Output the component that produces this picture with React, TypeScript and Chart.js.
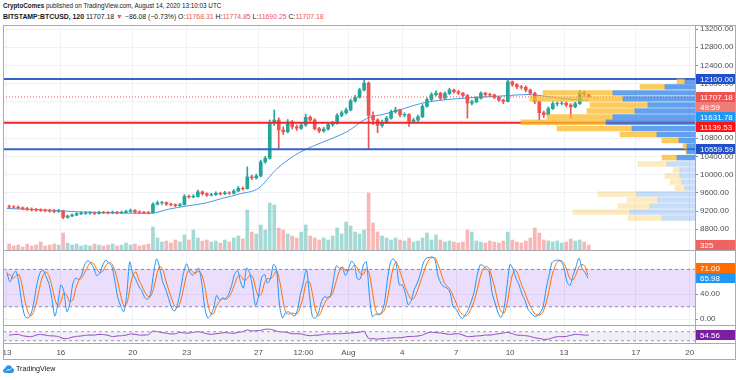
import React, { useEffect, useRef } from 'react';
import { Chart, registerables } from 'chart.js';

Chart.register(...registerables);

// ---------------- data ----------------
const X_MIN = -0.22; // days since Jul 13 00:00
const X_MAX = 38.29;
const timeTickDays = [0, 3, 7, 10, 14, 16.5, 19, 22, 25, 28, 31, 35, 38];
const timeTickLabels = ['13', '16', '20', '23', '27', '12:00', 'Aug', '4', '7', '10', '13', '17', '20'];
const priceTicks = [8800, 9200, 9600, 10000, 10400, 10800, 11200, 11600, 12000, 12400, 12800, 13200];
const stochTicks = [0, 40, 80];

// 6-hour candles
const firstOpen = 9300;
const closes = [
  9290, 9285, 9270, 9250, 9240, 9225, 9220, 9215, 9210, 9200,
  9190, 9200, 9060, 9090, 9110, 9140, 9150, 9155, 9160, 9150,
  9170, 9165, 9160, 9170, 9160, 9170, 9190, 9210, 9180, 9170,
  9165, 9160, 9350, 9380, 9385, 9350, 9340, 9320, 9340, 9520,
  9510, 9520, 9620, 9580, 9550, 9560, 9590, 9580, 9600, 9590,
  9640, 9700, 9690, 9950, 9930, 9970, 10280, 10360, 11150, 11200,
  10980, 10940, 11160, 11050, 11020, 11090, 11260, 11200, 11010, 10960,
  11000, 11100, 11130, 11300, 11360, 11420, 11620, 11700, 11860, 12010,
  11300, 11200, 11080, 11150, 11240, 11380, 11420, 11310, 11320, 11170,
  11200, 11270, 11500, 11650, 11760, 11790, 11680, 11780, 11860, 11820,
  11790, 11740, 11570, 11600, 11680, 11790, 11760, 11750, 11700, 11640,
  11610, 12040, 11980, 11930, 11920, 11860, 11790, 11600, 11360, 11320,
  11450, 11560, 11565, 11570, 11530, 11490, 11560, 11810, 11760, 11707.18,
];
const highs = [
  9330, 9320, 9310, 9290, 9280, 9270, 9260, 9250, 9245, 9240,
  9230, 9235, 9215, 9110, 9140, 9165, 9180, 9185, 9190, 9185,
  9200, 9195, 9190, 9200, 9195, 9200, 9220, 9245, 9230, 9205,
  9195, 9190, 9380, 9420, 9410, 9400, 9375, 9360, 9370, 9560,
  9550, 9560, 9660, 9640, 9600, 9590, 9620, 9615, 9630, 9625,
  9670, 9740, 9730, 10170, 9990, 10010, 10320, 10400, 11200, 11420,
  11250, 11050, 11210, 11190, 11090, 11130, 11330, 11290, 11230, 11040,
  11040, 11140, 11170, 11340, 11400, 11460, 11660, 11740, 11900, 12080,
  12040, 11380, 11230, 11200, 11280, 11420, 11480, 11440, 11360, 11340,
  11240, 11310, 11540, 11690, 11800, 11840, 11810, 11820, 11900, 11880,
  11850, 11810, 11760, 11640, 11710, 11820, 11810, 11790, 11770, 11720,
  11660, 12090, 12060, 12000, 11960, 11950, 11880, 11810, 11620, 11400,
  11490, 11600, 11600, 11610, 11600, 11560, 11590, 11850, 11840, 11775,
];
const lows = [
  9270, 9260, 9250, 9230, 9215, 9200, 9195, 9190, 9180, 9175,
  9160, 9170, 9030, 9040, 9075, 9095, 9120, 9125, 9130, 9120,
  9130, 9140, 9135, 9140, 9135, 9140, 9150, 9170, 9155, 9145,
  9140, 9135, 9150, 9330, 9345, 9320, 9310, 9290, 9300, 9330,
  9480, 9490, 9505, 9550, 9520, 9530, 9540, 9550, 9560, 9565,
  9575, 9620, 9660, 9680, 9890, 9900, 9950, 10250, 10340, 11080,
  10580, 10880, 10920, 11000, 10970, 10990, 11060, 11150, 10980, 10920,
  10930, 10980, 11060, 11110, 11270, 11330, 11400, 11590, 11680, 11840,
  10570, 11100, 10920, 11040, 11120, 11220, 11350, 11270, 11270, 11060,
  11130, 11170, 11250, 11480, 11620, 11730, 11640, 11660, 11760, 11790,
  11760, 11700, 11240, 11530, 11580, 11660, 11720, 11720, 11670, 11610,
  11560, 11600, 11940, 11890, 11880, 11820, 11750, 11560, 11200, 11250,
  11300, 11430, 11510, 11530, 11490, 11240, 11470, 11540, 11720, 11690,
];
const volumes = [
  390, 260, 325, 195, 390, 260, 325, 520, 260, 325, 390, 325,
  1105,
  455, 325, 390, 260, 325, 260, 390, 325, 260, 325, 390, 260, 325, 455, 325, 390, 260, 325, 390,
  1495, 780, 520, 585, 455, 650, 520, 975, 650, 1300,
  780, 585, 650, 520, 585, 455, 650, 520, 780, 910, 715,
  2600, 1170, 1040, 1625, 1300, 3055, 2925,
  1430, 1300, 1040, 910, 780, 1170, 1625, 910, 780, 650,
  780, 650, 910, 1430, 1040, 1820, 1560, 1170, 1040, 1300,
  3705, 1755, 1170, 910, 780, 650, 780, 650, 585, 780,
  520, 585, 780, 1105, 650, 975, 650, 520, 585, 520,
  455, 520, 1300, 1170, 585, 520, 455, 585, 520, 455,
  585, 1170, 650, 520, 455, 585, 780, 1430, 1105, 650,
  585, 520, 585, 455, 520, 715, 585, 650, 520, 325,
];

// moving average (daily readings)
const maDays = [0, 1, 2, 3, 4, 5, 6, 7, 8, 9, 10, 11, 12, 13, 14, 15, 16, 17, 18, 19, 20, 21, 22, 23, 24, 25, 26, 27, 28, 29, 30, 31, 32, 32.375];
const maValues = [
  9255, 9240, 9225, 9205, 9180, 9165, 9158, 9152, 9150, 9240,
  9310, 9370, 9480, 9580, 9700, 10120, 10420, 10620, 10780, 10960,
  11230, 11330, 11440, 11560, 11630, 11665, 11695, 11715, 11740, 11760,
  11720, 11670, 11640, 11631.78,
];

// key levels
const levelHigh = 12100;
const levelMid = 11139.53;
const levelLow = 10559.59;
const lastPrice = 11707.18;
const lastVolume = 325;
const countdown = '49:59';

// visible range volume profile (rows)
const profPrice = [12049, 11928, 11796, 11664, 11532, 11400, 11268, 11149, 11015, 10883, 10751, 10626, 10509, 10373, 10234, 10102, 9970, 9838, 9706, 9574, 9442, 9310, 9178, 9046];
const profUp = [10, 30, 82, 72, 47, 60, 82, 89, 63, 38, 16, 8, 8, 18, 28, 15, 15, 13, 10, 58, 37, 45, 65, 33];
const profDown = [8, 25, 70, 93, 58, 48, 66, 85, 75, 37, 17, 4, 1, 15, 29, 7, 15, 12, 10, 39, 31, 32, 57, 34];
const valueAreaLow = 10300;

// stochastic (4-hour readings)
const stochK = [
  75, 60, 71, 77, 58, 25, 5, 2, 8, 28,
  56, 74, 79, 69, 57, 33, 5, 25, 55, 45,
  12, 25, 57, 66, 64, 72, 88, 94, 90, 82,
  70, 74, 87, 95, 90, 85, 62, 35, 21, 12,
  40, 92, 73, 64, 53, 46, 35, 32, 42, 75,
  97, 82, 60, 48, 33, 18, 13, 25, 48, 75,
  89, 76, 71, 75, 82, 60, 20, 2, 6, 18,
  38, 31, 33, 33, 40, 54, 72, 78, 60, 50,
  82, 75, 52, 22, 37, 66, 72, 58, 65, 88,
  80, 23, 2, 10, 12, 8, 5, 15, 40, 60,
  80, 39, 4, 2, 10, 28, 36, 35, 38, 62,
  86, 82, 83, 70, 80, 93, 88, 65, 65, 87,
  92, 39, 4, 8, 8, 10, 25, 62, 90, 97,
  88, 55, 55, 42, 23, 30, 48, 58, 72, 90,
  98, 99, 100, 94, 68, 57, 52, 50, 42, 20,
  16, 7, 1, 7, 15, 28, 44, 70, 87, 86,
  81, 76, 42, 26, 10, 3, 18, 55, 88, 80,
  65, 55, 40, 30, 16, 10, 5, 5, 10, 20,
  48, 70, 91, 94, 95, 93, 82, 60, 54, 70,
  84, 98, 82, 75, 65.98,
];
const stochD = [
  70, 72, 65, 70, 72, 55, 30, 12, 5, 13,
  30, 53, 70, 76, 70, 53, 32, 22, 28, 42,
  38, 28, 31, 50, 62, 67, 75, 85, 91, 89,
  80, 75, 77, 86, 91, 89, 79, 60, 38, 22,
  25, 48, 70, 76, 64, 54, 44, 37, 37, 50,
  71, 85, 80, 63, 47, 33, 21, 19, 29, 50,
  71, 80, 76, 74, 77, 72, 54, 27, 9, 9,
  21, 29, 34, 32, 35, 43, 56, 68, 70, 63,
  64, 70, 69, 50, 37, 41, 58, 65, 65, 70,
  78, 63, 35, 12, 8, 10, 9, 9, 20, 38,
  60, 60, 41, 15, 5, 13, 25, 33, 36, 45,
  62, 77, 84, 78, 78, 81, 87, 82, 73, 72,
  81, 73, 45, 17, 7, 9, 14, 32, 59, 83,
  92, 80, 66, 51, 40, 32, 34, 45, 59, 73,
  87, 96, 99, 98, 87, 73, 59, 53, 48, 37,
  26, 14, 8, 5, 8, 17, 29, 47, 67, 81,
  85, 81, 66, 48, 26, 13, 10, 25, 54, 74,
  78, 67, 53, 42, 29, 19, 10, 7, 7, 12,
  26, 46, 70, 85, 93, 94, 90, 78, 65, 63,
  72, 84, 88, 85, 71,
];

// RSI (6-hour readings)
const rsiValues = [
  55, 57, 58, 52, 49, 48, 55, 58, 55, 52,
  51, 48, 40, 39, 46, 49, 51, 54, 55, 55,
  58, 57, 54, 48, 51, 52, 55, 60, 58, 55,
  55, 57, 73, 70, 66, 63, 60, 61, 67, 64,
  64, 67, 70, 66, 61, 58, 61, 63, 66, 64,
  63, 67, 70, 78, 73, 75, 76, 81, 81, 76,
  70, 69, 66, 61, 61, 60, 55, 52, 54, 55,
  58, 60, 60, 61, 61, 63, 64, 66, 67, 72,
  40, 39, 37, 39, 40, 42, 43, 43, 46, 49,
  49, 51, 55, 64, 67, 66, 64, 61, 58, 60,
  61, 55, 48, 49, 51, 52, 55, 55, 58, 61,
  64, 67, 61, 55, 54, 52, 49, 43, 40, 36,
  37, 43, 48, 48, 49, 54, 58, 57, 55, 54.56,
];

// ---------------- styling ----------------
const FONT = "'Liberation Sans', Arial, sans-serif";
const GRID = '#eff1f6';
const TEXT = '#4a4d56';
const FRAME = '#a7aab3';
const UP = '#26a69a';
const DOWN = '#ef5350';

const PRICE_MIN = 8343;
const PRICE_MAX = 13288;
const VOL_MAX = 14625;
const PROF_MAX = 692;

type Box = { axis: string; value: number; text: string; bg: string };

function boxPlugin(id: string, boxes: Box[], dir: 'down' | 'up') {
  return {
    id,
    afterDraw(chart: any) {
      const { ctx, chartArea } = chart;
      const H = 10;
      const items = boxes.map((b, k) => ({ ...b, k, y: chart.scales[b.axis].getPixelForValue(b.value) }));
      items.sort((a, b) => a.y - b.y || a.k - b.k);
      if (dir === 'down') {
        for (let i = 1; i < items.length; i++) if (items[i].y < items[i - 1].y + H) items[i].y = items[i - 1].y + H;
      } else {
        for (let i = items.length - 2; i >= 0; i--) if (items[i].y > items[i + 1].y - H) items[i].y = items[i + 1].y - H;
      }
      const x0 = chartArea.right + 1;
      ctx.save();
      ctx.font = `8px ${FONT}`;
      ctx.textBaseline = 'middle';
      for (const it of items) {
        ctx.fillStyle = it.bg;
        ctx.fillRect(x0, Math.round(it.y - H / 2), chart.width - x0 - 1, H);
        ctx.fillStyle = '#ffffff';
        ctx.fillText(it.text, x0 + 4, Math.round(it.y - H / 2) + H / 2 + 0.5);
      }
      ctx.restore();
    },
  };
}

function xAxis(showLabels: boolean, axisHeight: number) {
  return {
    type: 'linear',
    min: X_MIN,
    max: X_MAX,
    offset: false,
    position: 'bottom',
    afterBuildTicks: (s: any) => {
      s.ticks = timeTickDays.map((v) => ({ value: v }));
    },
    ticks: {
      display: showLabels,
      autoSkip: false,
      maxRotation: 0,
      padding: 4,
      color: TEXT,
      font: { size: 8 },
      callback: (_v: any, i: number) => timeTickLabels[i],
    },
    grid: { color: GRID, drawTicks: false, offset: false },
    border: { display: false },
    afterFit: (s: any) => {
      s.height = axisHeight;
      s.paddingLeft = 0;
      s.paddingRight = 0;
    },
  };
}

function rightAxis(min: number, max: number, ticks: number[], extra: any = {}) {
  return {
    type: 'linear',
    position: 'right',
    min,
    max,
    offset: false,
    afterBuildTicks: (s: any) => {
      s.ticks = ticks.map((v) => ({ value: v }));
    },
    ticks: {
      display: ticks.length > 0,
      color: TEXT,
      font: { size: 8 },
      padding: 2,
      callback: (v: any) => Number(v).toFixed(2),
    },
    grid: { color: GRID, tickColor: '#8a8d96', tickLength: 3, offset: false },
    border: { display: false },
    afterFit: (s: any) => {
      s.width = 41;
      s.paddingTop = 0;
      s.paddingBottom = 0;
    },
    ...extra,
  };
}

const hline = (y: number) => [
  { x: X_MIN, y },
  { x: X_MAX, y },
];

function mainConfig(): any {
  const times = closes.map((_, i) => (i + 0.5) / 4);
  const opens = closes.map((_, i) => (i === 0 ? firstOpen : closes[i - 1]));
  const isUp = closes.map((c, i) => c >= opens[i]);
  const inVA = profPrice.map((p) => p >= valueAreaLow);
  return {
    type: 'bar',
    data: {
      datasets: [
        {
          type: 'bar',
          label: 'Volume',
          yAxisID: 'yVol',
          xAxisID: 'x',
          data: times.map((t, i) => ({ x: t, y: volumes[i] })),
          backgroundColor: isUp.map((u) => (u ? 'rgba(38,166,154,0.42)' : 'rgba(239,83,80,0.42)')),
          barThickness: 3,
          grouped: false,
          borderWidth: 0,
          order: 20,
        },
        {
          type: 'line',
          label: 'MA',
          xAxisID: 'x',
          yAxisID: 'y',
          data: maDays.map((d, i) => ({ x: d, y: maValues[i] })),
          borderColor: '#4a96e4',
          borderWidth: 1,
          pointRadius: 0,
          cubicInterpolationMode: 'monotone',
          order: 15,
        },
        {
          type: 'bar',
          label: 'Wicks',
          xAxisID: 'x',
          yAxisID: 'y',
          data: times.map((t, i) => ({ x: t, y: [lows[i], highs[i]] })),
          backgroundColor: isUp.map((u) => (u ? UP : DOWN)),
          barThickness: 1,
          grouped: false,
          borderWidth: 0,
          order: 14,
        },
        {
          type: 'bar',
          label: 'Bodies',
          xAxisID: 'x',
          yAxisID: 'y',
          data: times.map((t, i) => ({ x: t, y: [opens[i], closes[i]] })),
          backgroundColor: isUp.map((u) => (u ? UP : DOWN)),
          barThickness: 3,
          grouped: false,
          borderWidth: 0,
          order: 13,
        },
        {
          type: 'line',
          label: 'Last',
          xAxisID: 'x',
          yAxisID: 'y',
          data: hline(lastPrice),
          borderColor: '#ef5350',
          borderWidth: 1,
          borderDash: [1, 2],
          pointRadius: 0,
          order: 12,
        },
        {
          type: 'line',
          label: 'L1',
          xAxisID: 'x',
          yAxisID: 'y',
          data: hline(levelHigh),
          borderColor: '#3563c9',
          borderWidth: 2,
          pointRadius: 0,
          order: 11,
        },
        {
          type: 'line',
          label: 'L2',
          xAxisID: 'x',
          yAxisID: 'y',
          data: hline(levelMid),
          borderColor: '#f02424',
          borderWidth: 2,
          pointRadius: 0,
          order: 11,
        },
        {
          type: 'line',
          label: 'L3',
          xAxisID: 'x',
          yAxisID: 'y',
          data: hline(levelLow),
          borderColor: '#3563c9',
          borderWidth: 2,
          pointRadius: 0,
          order: 11,
        },
        {
          type: 'bar',
          label: 'ProfUp',
          indexAxis: 'y',
          xAxisID: 'xProf',
          yAxisID: 'y',
          data: profPrice.map((p, k) => ({ y: p, x: [0, profUp[k]] })),
          backgroundColor: inVA.map((v) => (v ? 'rgba(33,120,230,0.7)' : 'rgba(33,120,230,0.25)')),
          barThickness: 4.8,
          grouped: false,
          borderWidth: 0,
          order: 2,
        },
        {
          type: 'bar',
          label: 'ProfDown',
          indexAxis: 'y',
          xAxisID: 'xProf',
          yAxisID: 'y',
          data: profPrice.map((p, k) => ({ y: p, x: [profUp[k], profUp[k] + profDown[k]] })),
          backgroundColor: inVA.map((v) => (v ? 'rgba(250,185,40,0.75)' : 'rgba(250,185,40,0.3)')),
          barThickness: 4.8,
          grouped: false,
          borderWidth: 0,
          order: 2,
        },
      ],
    },
    options: {
      responsive: false,
      animation: false,
      devicePixelRatio: 1,
      events: [],
      layout: { padding: 0 },
      plugins: { legend: { display: false }, tooltip: { enabled: false } },
      scales: {
        x: xAxis(false, 0),
        xProf: { type: 'linear', min: 0, max: PROF_MAX, reverse: true, display: false, offset: false },
        y: rightAxis(PRICE_MIN, PRICE_MAX, priceTicks),
        yVol: { type: 'linear', min: 0, max: VOL_MAX, display: false, offset: false },
      },
    },
    plugins: [
      boxPlugin(
        'mainBoxes',
        [
          { axis: 'y', value: levelHigh, text: levelHigh.toFixed(2), bg: '#1f4fc9' },
          { axis: 'y', value: lastPrice, text: lastPrice.toFixed(2), bg: '#ef5350' },
          { axis: 'y', value: lastPrice, text: countdown, bg: '#f07c78' },
          { axis: 'y', value: maValues[maValues.length - 1], text: maValues[maValues.length - 1].toFixed(2), bg: '#2196f3' },
          { axis: 'y', value: levelMid, text: levelMid.toFixed(2), bg: '#ff1414' },
          { axis: 'y', value: levelLow, text: levelLow.toFixed(2), bg: '#1f4fc9' },
          { axis: 'yVol', value: lastVolume, text: String(lastVolume), bg: '#ef6360' },
        ],
        'down'
      ),
    ],
  };
}

function stochConfig(): any {
  const t = stochK.map((_, j) => j / 6);
  return {
    type: 'line',
    data: {
      datasets: [
        {
          data: hline(80),
          borderColor: '#8a8d96',
          borderWidth: 1,
          borderDash: [3, 3],
          pointRadius: 0,
          fill: '+1',
          backgroundColor: 'rgba(155,85,240,0.2)',
          order: 5,
        },
        {
          data: hline(20),
          borderColor: '#8a8d96',
          borderWidth: 1,
          borderDash: [3, 3],
          pointRadius: 0,
          fill: false,
          order: 5,
        },
        {
          data: t.map((x, j) => ({ x, y: stochD[j] })),
          borderColor: '#ff6d00',
          borderWidth: 1,
          pointRadius: 0,
          tension: 0.3,
          order: 2,
        },
        {
          data: t.map((x, j) => ({ x, y: stochK[j] })),
          borderColor: '#2196f3',
          borderWidth: 1,
          pointRadius: 0,
          tension: 0.3,
          order: 1,
        },
      ],
    },
    options: {
      responsive: false,
      animation: false,
      devicePixelRatio: 1,
      events: [],
      layout: { padding: 0 },
      plugins: { legend: { display: false }, tooltip: { enabled: false } },
      scales: {
        x: xAxis(false, 0),
        y: rightAxis(-10.9, 111.1, stochTicks),
      },
    },
    plugins: [
      boxPlugin(
        'stochBoxes',
        [
          { axis: 'y', value: stochD[stochD.length - 1], text: stochD[stochD.length - 1].toFixed(2), bg: '#ff6d00' },
          { axis: 'y', value: stochK[stochK.length - 1], text: stochK[stochK.length - 1].toFixed(2), bg: '#2196f3' },
        ],
        'up'
      ),
    ],
  };
}

function rsiConfig(): any {
  const t = rsiValues.map((_, i) => (i + 0.5) / 4);
  const last = rsiValues[rsiValues.length - 1];
  return {
    type: 'line',
    data: {
      datasets: [
        {
          data: hline(70),
          borderColor: '#9a9ca5',
          borderWidth: 1,
          borderDash: [3, 3],
          pointRadius: 0,
          fill: '+1',
          backgroundColor: 'rgba(126,87,194,0.1)',
        },
        {
          data: hline(30),
          borderColor: '#9a9ca5',
          borderWidth: 1,
          borderDash: [3, 3],
          pointRadius: 0,
          fill: false,
        },
        {
          data: t.map((x, i) => ({ x, y: rsiValues[i] })),
          borderColor: '#8e3fbd',
          borderWidth: 1,
          pointRadius: 0,
          tension: 0.2,
        },
      ],
    },
    options: {
      responsive: false,
      animation: false,
      devicePixelRatio: 1,
      events: [],
      layout: { padding: 0 },
      plugins: { legend: { display: false }, tooltip: { enabled: false } },
      scales: {
        x: xAxis(true, 16.5),
        y: rightAxis(17.6, 95.3, [], { grid: { display: false } }),
      },
    },
    plugins: [boxPlugin('rsiBoxes', [{ axis: 'y', value: last, text: last.toFixed(2), bg: '#7b1fa2' }], 'down')],
  };
}

const line = (left: number, top: number, width: number, height: number): React.CSSProperties => ({
  position: 'absolute',
  left,
  top,
  width,
  height,
  background: FRAME,
  pointerEvents: 'none',
});

export default function App() {
  const mainRef = useRef<HTMLCanvasElement>(null);
  const stochRef = useRef<HTMLCanvasElement>(null);
  const rsiRef = useRef<HTMLCanvasElement>(null);

  useEffect(() => {
    Chart.defaults.font.family = FONT;
    const charts: Chart[] = [];
    if (mainRef.current) charts.push(new Chart(mainRef.current, mainConfig()));
    if (stochRef.current) charts.push(new Chart(stochRef.current, stochConfig()));
    if (rsiRef.current) charts.push(new Chart(rsiRef.current, rsiConfig()));
    return () => charts.forEach((c) => c.destroy());
  }, []);

  const red = { color: '#ef5350' };
  return (
    <div
      style={{
        position: 'absolute',
        left: 0,
        top: 0,
        width: 736,
        height: 380,
        background: '#ffffff',
        overflow: 'hidden',
        fontFamily: FONT,
        color: '#131722',
      }}
    >
      <div style={{ position: 'absolute', left: 3, top: 1, fontSize: 6.3, lineHeight: '9px', whiteSpace: 'nowrap' }}>
        <b>CryptoComes</b> published on TradingView.com, August 14, 2020 13:10:03 UTC
      </div>
      <div style={{ position: 'absolute', left: 3, top: 11.5, fontSize: 6.9, lineHeight: '9px', whiteSpace: 'nowrap' }}>
        <b>BITSTAMP:BTCUSD, 120</b> 11707.18 <span style={red}>▼</span> −86.08 (−0.73%) O:<span style={red}>11768.31</span>{' '}
        H:<span style={red}>11774.85</span> L:<span style={red}>11690.25</span> C:<span style={red}>11707.18</span>
      </div>

      <canvas ref={mainRef} width={733} height={225} style={{ position: 'absolute', left: 3, top: 25 }} />
      <canvas ref={stochRef} width={733} height={76} style={{ position: 'absolute', left: 3, top: 250 }} />
      <canvas ref={rsiRef} width={733} height={34} style={{ position: 'absolute', left: 3, top: 326 }} />

      <div style={line(3, 25, 733, 1)} />
      <div style={line(3, 25, 1, 335)} />
      <div style={line(735, 25, 1, 335)} />
      <div style={line(3, 359, 733, 1)} />
      <div style={line(695, 25, 1, 319)} />
      <div style={line(3, 250, 733, 1)} />
      <div style={line(3, 325, 733, 1)} />
      <div style={line(3, 343, 733, 1)} />

      <div style={{ position: 'absolute', left: 3, top: 364, display: 'flex', alignItems: 'center', gap: 2 }}>
        <svg width="11" height="8" viewBox="0 0 11 8">
          <path d="M2.5 8 C0.8 8 0 6.9 0 5.8 C0 4.6 0.9 3.7 2.1 3.6 C2.4 1.6 3.9 0.3 5.7 0.3 C7.4 0.3 8.8 1.5 9.1 3.1 C10.2 3.3 11 4.3 11 5.5 C11 6.9 9.9 8 8.5 8 Z" fill="#2e8fe6" />
          <path d="M3 6.3 L5 4.2 L6.4 5.4 L8.4 3.4" stroke="#ffffff" strokeWidth="0.9" fill="none" />
        </svg>
        <span style={{ fontSize: 7.2, lineHeight: '9px' }}>TradingView</span>
      </div>
    </div>
  );
}
